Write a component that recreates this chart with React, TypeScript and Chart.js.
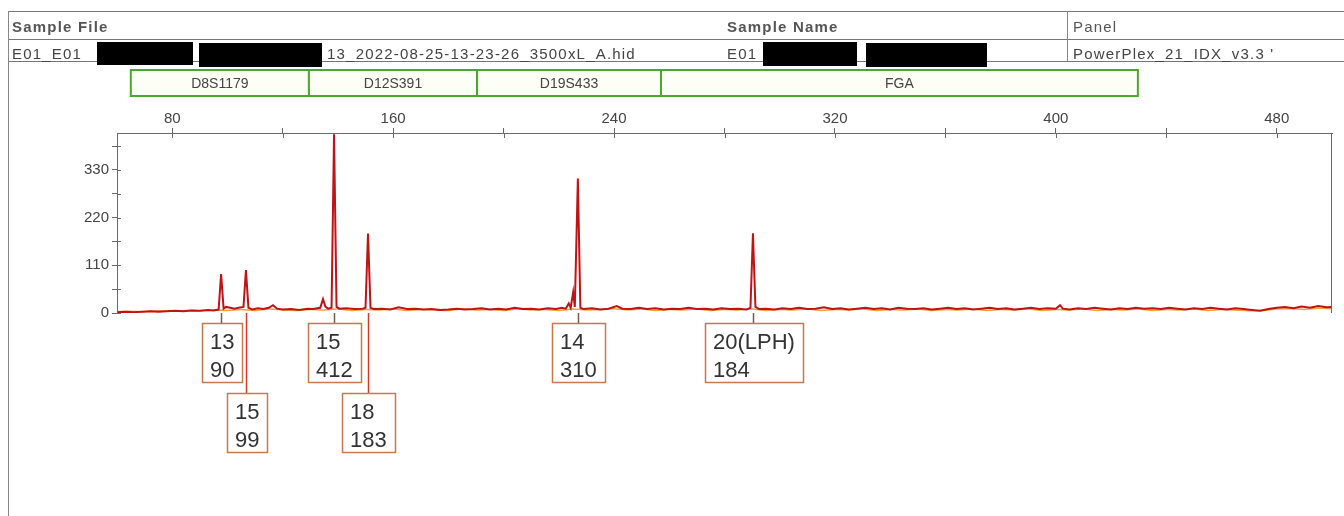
import React, { useEffect, useRef } from "react";
import { Chart, registerables } from "chart.js";

Chart.register(...registerables);

const FONT = "'Liberation Sans', Arial, sans-serif";

// ---- data ----
const binNames = ["D8S1179", "D12S391", "D19S433", "FGA"];
const binStart = [65, 129.5, 190.4, 257];
const binEnd = [129.5, 190.4, 257, 429.7];

const alleleNames = ["13", "15", "15", "18", "14", "20(LPH)"];
const alleleSizes = [97.7, 106.7, 138.6, 150.9, 226.9, 290.3];
const alleleHeights = [90, 99, 412, 183, 310, 184];

const xTickValues = [80, 120, 160, 200, 240, 280, 320, 360, 400, 440, 480];
const yTickValues = [0, 55, 110, 165, 220, 275, 330, 385];

const redSizes = [
  60, 63, 66, 69, 72, 75, 78, 81, 84, 87, 90, 93, 95, 96.8, 97.7, 98.6, 99.5, 101, 102.5, 104,
  105.8, 106.7, 107.6, 109, 111, 113, 115, 116.5, 118, 120, 123, 126, 129, 131, 133.6, 134.6, 135.5,
  136.5, 137.7, 138.6, 139.5, 140.5, 143, 146, 149, 150, 150.9, 151.8, 153, 156, 159, 162, 165, 168,
  171, 174, 177, 180, 183, 186, 189, 192, 195, 198, 201, 204, 207, 210, 213, 216, 219, 221, 222.5,
  223.6, 224.3, 225.2, 225.8, 226.9, 227.8, 229, 232, 235, 238, 241, 243, 246, 249, 252, 255, 258,
  261, 264, 267, 270, 273, 276, 279, 282, 285, 288, 289.4, 290.3, 291.2, 292.5, 295, 298, 301, 304,
  307, 310, 313, 316, 319, 322, 325, 328, 331, 334, 337, 340, 343, 346, 349, 352, 355, 358, 361, 364,
  367, 370, 373, 376, 379, 382, 385, 388, 391, 394, 397, 400, 401.5, 402.5, 405, 408, 411, 414, 417,
  420, 423, 426, 429, 432, 435, 438, 441, 444, 447, 450, 453, 456, 459, 462, 465, 468, 471, 474, 477,
  480, 483, 486, 489, 492, 495, 498, 500,
];
const redRfu = [
  2, 3, 2, 3, 4, 3, 4, 5, 4, 6, 5, 7, 6, 8, 90, 10, 14, 12, 10, 12,
  14, 99, 12, 8, 11, 9, 12, 18, 10, 8, 9, 7, 10, 9, 12, 32, 14,
  10, 12, 412, 14, 10, 11, 9, 10, 12, 183, 12, 9, 10, 8, 13, 9, 10,
  8, 9, 7, 8, 10, 8, 9, 11, 8, 10, 8, 12, 9, 10, 8, 11, 9, 12, 10,
  22, 12, 48, 14, 310, 12, 9, 11, 8, 10, 16, 10, 9, 12, 9, 11, 8,
  10, 9, 12, 9, 10, 8, 11, 9, 10, 8, 12, 184, 14, 9, 10, 8, 11, 9,
  12, 9, 10, 13, 9, 11, 8, 10, 12, 9, 11, 8, 12, 10, 9, 11, 8, 10, 12, 9,
  11, 8, 10, 12, 9, 11, 8, 10, 12, 9, 11, 10, 18, 10, 8, 11, 9, 12, 10,
  8, 11, 9, 12, 10, 11, 9, 12, 10, 8, 11, 9, 12, 10, 8, 11, 9, 7, 5, 9,
  12, 14, 11, 15, 12, 16, 13, 14,
];

const orangeSizes = [
  60, 65, 70, 75, 80, 85, 90, 95, 100, 105, 110, 115, 120, 125, 130, 135, 140, 145, 150, 155,
  160, 165, 170, 175, 180, 185, 190, 195, 200, 205, 210, 215, 220, 225, 230, 235, 240, 245, 250, 255,
  260, 265, 270, 275, 280, 285, 290, 295, 300, 305, 310, 315, 320, 325, 330, 335, 340, 345, 350, 355,
  360, 365, 370, 375, 380, 385, 390, 395, 400, 405, 410, 415, 420, 425, 430, 435, 440, 445, 450, 455,
  460, 465, 470, 475, 480, 485, 490, 495, 500,
];
const orangeRfu = [
  3, 4, 3, 5, 4, 6, 5, 7, 6, 8, 6, 9, 7, 6, 8, 7, 9, 6, 8, 7,
  9, 6, 8, 7, 6, 9, 7, 8, 6, 9, 7, 8, 6, 9, 7, 8, 10, 7, 9, 6,
  8, 7, 9, 6, 8, 7, 9, 6, 8, 7, 9, 6, 8, 7, 9, 6, 8, 7, 9, 6,
  8, 7, 9, 6, 8, 7, 9, 6, 8, 7, 9, 6, 8, 7, 9, 6, 8, 7, 9, 6,
  8, 7, 5, 6, 9, 10, 8, 11, 10,
];

const decorPlugin = {
  id: "strDecor",
  afterDraw(chart: any) {
    const { ctx, chartArea, scales } = chart;
    const { left, right, top, bottom } = chartArea;
    const xs = scales.x;
    ctx.save();
    // frame
    ctx.strokeStyle = "#6a6a6a";
    ctx.lineWidth = 1;
    ctx.beginPath();
    ctx.moveTo(left + 0.5, bottom);
    ctx.lineTo(left + 0.5, top + 0.5);
    ctx.lineTo(right - 0.5, top + 0.5);
    ctx.lineTo(right - 0.5, bottom);
    ctx.stroke();
    // inward tick marks
    yTickValues.forEach((v) => {
      const py = Math.round(scales.y.getPixelForValue(v)) + 0.5;
      ctx.beginPath();
      ctx.moveTo(left, py);
      ctx.lineTo(left + 4, py);
      ctx.stroke();
    });
    xTickValues.forEach((v) => {
      const px = Math.round(xs.getPixelForValue(v)) + 0.5;
      ctx.beginPath();
      ctx.moveTo(px, top);
      ctx.lineTo(px, top + 5);
      ctx.stroke();
    });

    // bins
    binNames.forEach((name, i) => {
      const x0 = xs.getPixelForValue(binStart[i]);
      const x1 = xs.getPixelForValue(binEnd[i]);
      const y0 = top - 63;
      const h = 26;
      ctx.fillStyle = "#fdfef6";
      ctx.fillRect(x0, y0, x1 - x0, h);
      ctx.strokeStyle = "#4aa82a";
      ctx.lineWidth = 2;
      ctx.strokeRect(x0, y0, x1 - x0, h);
      ctx.fillStyle = "#444";
      ctx.font = `14px ${FONT}`;
      ctx.textAlign = "center";
      ctx.textBaseline = "middle";
      ctx.fillText(name, (x0 + x1) / 2, y0 + h / 2 + 1);
    });

    // allele labels
    ctx.font = `22px ${FONT}`;
    let prevRight = -Infinity;
    alleleNames.forEach((name, i) => {
      const px = Math.round(xs.getPixelForValue(alleleSizes[i])) + 0.5;
      const l1 = name;
      const l2 = String(alleleHeights[i]);
      const tw = Math.max(ctx.measureText(l1).width, ctx.measureText(l2).width);
      const w = Math.round(tw + 16);
      const x0 = Math.round(px - w / 2);
      let row = 0;
      if (x0 < prevRight + 2) row = 1;
      else prevRight = x0 + w;
      const boxTop = bottom + 10 + row * 70;
      const h = 59;
      ctx.strokeStyle = row === 0 ? "#7a5a4a" : "#d83a2a";
      ctx.lineWidth = 1.5;
      ctx.beginPath();
      ctx.moveTo(px, bottom);
      ctx.lineTo(px, boxTop);
      ctx.stroke();
      ctx.fillStyle = "#ffffff";
      ctx.fillRect(x0, boxTop, w, h);
      ctx.strokeStyle = "#c8784a";
      ctx.lineWidth = 1.5;
      ctx.strokeRect(x0 + 0.5, boxTop + 0.5, w, h);
      ctx.fillStyle = "#333";
      ctx.textAlign = "left";
      ctx.textBaseline = "middle";
      ctx.fillText(l1, x0 + 8, boxTop + 20);
      ctx.fillText(l2, x0 + 8, boxTop + 48);
    });
    ctx.restore();
  },
};

export default function App() {
  const ref = useRef<HTMLCanvasElement | null>(null);
  useEffect(() => {
    if (!ref.current) return;
    const chart = new Chart(ref.current, {
      type: "line",
      data: {
        datasets: [
          {
            label: "red",
            data: redSizes.map((x, i) => ({ x, y: redRfu[i] })),
            borderColor: "#c01414",
            borderWidth: 2,
            pointRadius: 0,
            tension: 0,
            order: 1,
          },
          {
            label: "orange",
            data: orangeSizes.map((x, i) => ({ x, y: orangeRfu[i] })),
            borderColor: "#f0a040",
            borderWidth: 1.5,
            pointRadius: 0,
            tension: 0.3,
            order: 2,
          },
        ],
      },
      options: {
        animation: false,
        responsive: false,
        layout: { padding: { top: 100, left: 0, right: 12, bottom: 203 } },
        plugins: { legend: { display: false }, tooltip: { enabled: false } },
        scales: {
          x: {
            type: "linear",
            position: "top",
            min: 60,
            max: 500,
            afterBuildTicks: (s: any) => {
              s.ticks = xTickValues.map((v) => ({ value: v }));
            },
            afterFit: (s: any) => {
              s.height = 33;
            },
            ticks: {
              autoSkip: false,
              maxRotation: 0,
              padding: 0,
              color: "#444",
              font: { size: 15, family: FONT },
              callback: (v: any) => (Number(v) % 80 === 0 ? String(v) : ""),
            },
            grid: { drawOnChartArea: false, tickLength: 5, color: "#666" },
            border: { color: "#666" },
          },
          y: {
            type: "linear",
            min: 0,
            max: 415,
            afterBuildTicks: (s: any) => {
              s.ticks = yTickValues.map((v) => ({ value: v }));
            },
            afterFit: (s: any) => {
              s.width = 117;
            },
            ticks: {
              autoSkip: false,
              padding: 3,
              color: "#444",
              font: { size: 15, family: FONT },
              callback: (v: any) => (Number(v) % 110 === 0 ? String(v) : ""),
            },
            grid: { drawOnChartArea: false, tickLength: 5, color: "#666" },
            border: { color: "#666" },
          },
        },
      },
      plugins: [decorPlugin],
    });
    return () => chart.destroy();
  }, []);

  const txt: React.CSSProperties = {
    position: "absolute",
    fontFamily: FONT,
    fontSize: 15,
    letterSpacing: "1.2px",
    color: "#444",
    whiteSpace: "nowrap",
    lineHeight: "16px",
  };
  const hline = (y: number): React.CSSProperties => ({
    position: "absolute",
    left: 8,
    top: y,
    width: 1336,
    height: 0,
    borderTop: "1.5px solid #777",
  });
  const vline = (x: number, y0: number, y1: number): React.CSSProperties => ({
    position: "absolute",
    left: x,
    top: y0,
    width: 0,
    height: y1 - y0,
    borderLeft: "1.5px solid #888",
  });
  const blk = (x: number, y: number, w: number, h: number): React.CSSProperties => ({
    position: "absolute",
    left: x,
    top: y,
    width: w,
    height: h,
    background: "#000",
  });

  return (
    <div
      style={{
        position: "fixed",
        left: 0,
        top: 0,
        width: 1344,
        height: 516,
        background: "#fff",
        overflow: "hidden",
      }}
    >
      <canvas ref={ref} width={1344} height={516} style={{ position: "absolute", left: 0, top: 0 }} />
      <div style={hline(11)} />
      <div style={hline(39)} />
      <div style={hline(61)} />
      <div style={vline(8, 11, 516)} />
      <div style={vline(1067, 11, 61)} />
      <div style={{ ...txt, left: 12, top: 19, fontWeight: 600, color: "#555" }}>Sample File</div>
      <div style={{ ...txt, left: 727, top: 19, fontWeight: 600, color: "#555" }}>Sample Name</div>
      <div style={{ ...txt, left: 1073, top: 19, color: "#555" }}>Panel</div>
      <div style={{ ...txt, left: 12, top: 46 }}>E01_E01</div>
      <div style={blk(97, 42, 96, 23)} />
      <div style={blk(199, 43, 123, 24)} />
      <div style={{ ...txt, left: 327, top: 46 }}>13_2022-08-25-13-23-26_3500xL_A.hid</div>
      <div style={{ ...txt, left: 727, top: 46 }}>E01</div>
      <div style={blk(763, 42, 94, 24)} />
      <div style={blk(866, 43, 121, 24)} />
      <div style={{ ...txt, left: 1073, top: 46 }}>PowerPlex_21_IDX_v3.3 '</div>
    </div>
  );
}
